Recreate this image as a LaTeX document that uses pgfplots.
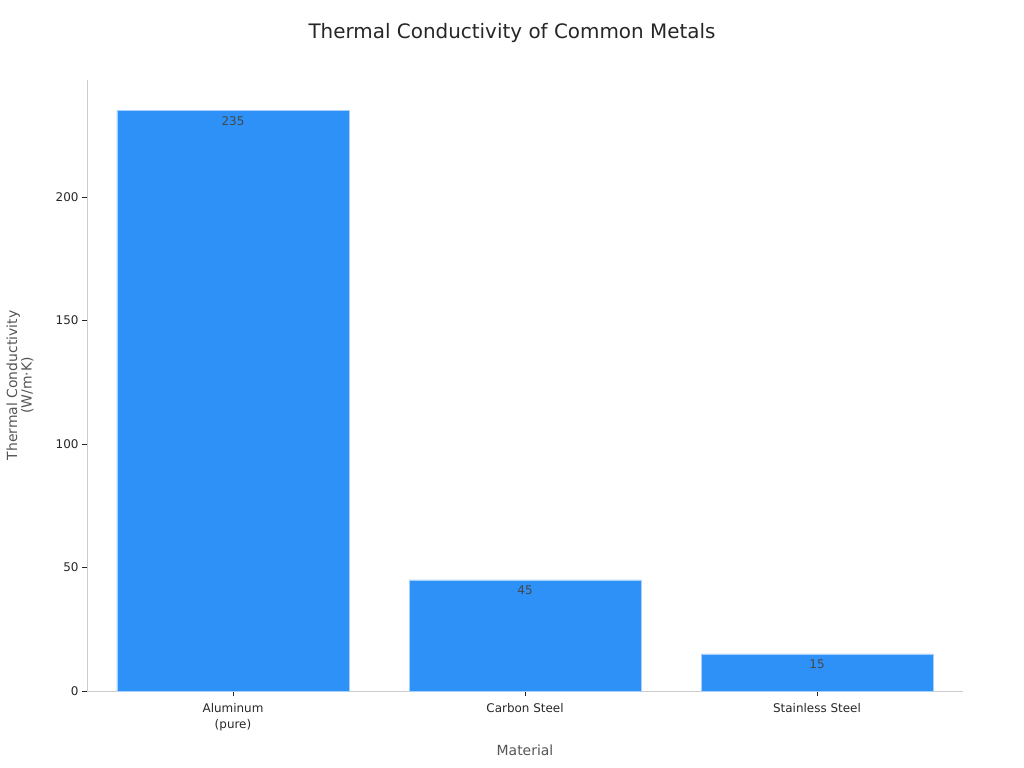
\documentclass[border=0pt]{standalone}
\usepackage{pgfplots}
\pgfplotsset{compat=1.18}
\usepackage{fontspec}
\setmainfont{DejaVu Sans}
\definecolor{barblue}{HTML}{2E91F7}
\definecolor{baredge}{HTML}{A8D0FA}
\definecolor{spine}{HTML}{CCCCCC}
\definecolor{txt}{HTML}{262626}
\definecolor{lbl}{HTML}{555555}

\begin{document}
\begin{tikzpicture}
\path[use as bounding box] (0bp,0bp) rectangle (1024bp,768bp);
\node[font=\fontsize{20}{24}\selectfont, text=txt] at (512bp,735bp) {Thermal Conductivity of Common Metals};
\begin{axis}[
    at={(87bp,77bp)}, anchor=south west,
    scale only axis, width=876bp, height=611bp,
    xmin=-0.5, xmax=2.5, ymin=0, ymax=247.4,
    axis x line*=bottom, axis y line*=left,
    axis line style={spine, line width=0.8pt},
    xtick=data,
    xticklabels={{Aluminum\\(pure)},{Carbon Steel},{Stainless Steel}},
    xticklabel style={align=center, font=\fontsize{12}{16}\selectfont, text=txt, yshift=-4bp},
    ytick={0,50,100,150,200},
    yticklabel style={font=\fontsize{12}{14}\selectfont, text=txt},
    /pgf/number format/assume math mode=true,
    tick style={color=txt, line width=0.5pt},
    tick align=outside, major tick length=5bp,
    xlabel={Material},
    ylabel={Thermal Conductivity\\(W/m·K)},
    xlabel style={font=\fontsize{14}{16}\selectfont, text=lbl, at={(axis description cs:0.5,0)}, anchor=center, yshift=-59bp},
    ylabel style={font=\fontsize{14}{14.5}\selectfont, text=lbl, align=center, at={(axis description cs:0,0.5)}, anchor=center, yshift=67bp},
    clip=false,
]
\addplot[ybar, bar width=232bp, fill=barblue, draw=baredge, line width=0.6pt,
    nodes near coords,
    every node near coord/.append style={anchor=north, yshift=-2bp, font=\fontsize{12}{14}\selectfont, text=txt!85},
    /pgf/number format/assume math mode=true]
    coordinates {(0,235) (1,45) (2,15)};
\end{axis}
\end{tikzpicture}
\end{document}
